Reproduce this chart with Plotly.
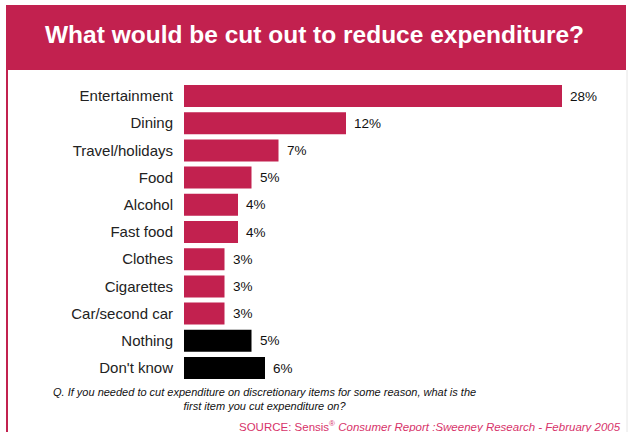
import plotly.graph_objects as go

# Survey responses: first discretionary item people would cut
categories = ["Entertainment", "Dining", "Travel/holidays", "Food", "Alcohol",
              "Fast food", "Clothes", "Cigarettes", "Car/second car",
              "Nothing", "Don't know"]
values = [28, 12, 7, 5, 4, 4, 3, 3, 3, 5, 6]
is_other = [False] * 9 + [True, True]

RED = "#C2214F"
BLACK = "#000000"
W, H = 628, 432
FONT = "Liberation Sans, Arial"

bar_colors = [BLACK if o else RED for o in is_other]

fig = go.Figure()
fig.add_trace(go.Bar(
    x=values, y=categories, orientation="h",
    marker=dict(color=bar_colors, line=dict(width=0)),
    hoverinfo="skip",
))

# value labels placed just right of each bar
for c, v in zip(categories, values):
    fig.add_annotation(x=v, y=c, xref="x", yref="y", text=f"{v}%",
                       showarrow=False, xanchor="left", xshift=6,
                       font=dict(family=FONT, size=13.5, color="#111"))

# plot area geometry (pixels)
x_left, x_right = 184, 616
y_top, y_bot = 82.4, 381.6

fig.update_layout(
    width=W, height=H,
    margin=dict(l=0, r=0, t=0, b=0),
    paper_bgcolor="white", plot_bgcolor="white",
    showlegend=False,
    bargap=0.19,
    xaxis=dict(domain=[x_left / W, x_right / W], range=[0, 32],
               visible=False, fixedrange=True),
    yaxis=dict(domain=[1 - y_bot / H, 1 - y_top / H],
               autorange="reversed", showgrid=False, zeroline=False,
               showline=False, ticks="", ticklabelstandoff=10,
               tickfont=dict(family=FONT, size=15, color="#222"),
               fixedrange=True),
)

# header banner
fig.add_shape(type="rect", xref="paper", yref="paper",
              x0=6 / W, x1=626 / W, y0=1 - 70 / H, y1=1 - 5 / H,
              fillcolor=RED, line=dict(width=0), layer="below")
# left border line under the banner
fig.add_shape(type="line", xref="paper", yref="paper",
              x0=7 / W, x1=7 / W, y0=0, y1=1 - 70 / H,
              line=dict(color=RED, width=2))
# faint right border
fig.add_shape(type="line", xref="paper", yref="paper",
              x0=627 / W, x1=627 / W, y0=0, y1=1 - 70 / H,
              line=dict(color="#e6e6e6", width=1))

fig.add_annotation(xref="paper", yref="paper", x=314.5 / W, y=1 - 35 / H,
                   text="<b>What would be cut out to reduce expenditure?</b>",
                   showarrow=False, xanchor="center", yanchor="middle",
                   font=dict(family=FONT, size=24.5, color="white"))

fig.add_annotation(xref="paper", yref="paper", x=264 / W, y=1 - 399 / H,
                   text="<i>Q. If you needed to cut expenditure on discretionary items for some reason, what is the<br>first item you cut expenditure on?</i>",
                   showarrow=False, xanchor="center", yanchor="middle", align="center",
                   font=dict(family=FONT, size=11, color="#111"))

fig.add_annotation(xref="paper", yref="paper", x=623 / W, y=1 - 426 / H,
                   text="SOURCE: Sensis<sup>®</sup> <i>Consumer Report :Sweeney Research - February 2005</i>",
                   showarrow=False, xanchor="right", yanchor="middle",
                   font=dict(family=FONT, size=11.5, color="#D7336A"))

fig.write_html("out.html")
